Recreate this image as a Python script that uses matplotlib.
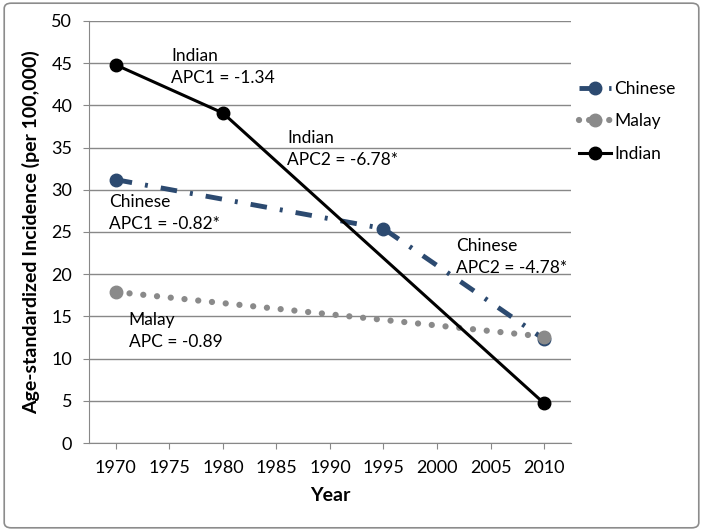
import matplotlib.pyplot as plt
from matplotlib.patches import FancyBboxPatch

plt.rcParams['font.family'] = ['Lato', 'DejaVu Sans']

# data
chinese_years = [1970, 1995, 2010]
chinese_vals = [31.2, 25.4, 12.3]
malay_years = [1970, 2010]
malay_vals = [17.9, 12.6]
indian_years = [1970, 1980, 2010]
indian_vals = [44.8, 39.1, 4.7]

xticks = [1970, 1975, 1980, 1985, 1990, 1995, 2000, 2005, 2010]
yticks = [0, 5, 10, 15, 20, 25, 30, 35, 40, 45, 50]

labels = [
    (1975.2, 46.8, "Indian\nAPC1 = -1.34"),
    (1986.0, 37.1, "Indian\nAPC2 = -6.78*"),
    (1969.4, 29.5, "Chinese\nAPC1 = -0.82*"),
    (2001.8, 24.3, "Chinese\nAPC2 = -4.78*"),
    (1971.2, 15.5, "Malay\nAPC = -0.89"),
]

blue = '#2c4a70'
grey = '#8a8a8a'

fig = plt.figure(figsize=(7.03, 5.31), dpi=100)
ax = fig.add_axes([0.1266, 0.1657, 0.6855, 0.7948])

ax.plot(chinese_years, chinese_vals, color=blue, lw=3.5, dashes=[3.4, 2.7, 0.6, 2.7],
        marker='o', ms=9, label='Chinese', zorder=3)
ax.plot(malay_years, malay_vals, color=grey, lw=0, marker='o', ms=9, zorder=5)
ax.plot(malay_years, malay_vals, color=grey, lw=4.5, linestyle=(0, (0.01, 2.2)),
        dash_capstyle='round', zorder=2)
ax.plot([], [], color=grey, lw=4.5, linestyle=(0, (0.01, 1.6)),
        dash_capstyle='round', marker='o', ms=9, label='Malay')
ax.plot(indian_years, indian_vals, color='black', lw=2.2, marker='o', ms=9,
        label='Indian', zorder=4)

for x, y, s in labels:
    ax.text(x, y, s, fontsize=12.5, va='top', ha='left', linespacing=1.45)

ax.set_xlim(1967.5, 2012.5)
ax.set_ylim(0, 50)
ax.set_xticks(xticks)
ax.set_yticks(yticks)
ax.tick_params(labelsize=13, color='#888888', length=4, pad=8)
ax.yaxis.grid(True, color='#888888', lw=1)
ax.set_axisbelow(True)
for side in ['top', 'right']:
    ax.spines[side].set_visible(False)
for side in ['left', 'bottom']:
    ax.spines[side].set_color('#888888')

ax.set_xlabel('Year', fontsize=14, fontweight='bold', labelpad=8)
ax.set_ylabel('Age-standardized Incidence (per 100,000)', fontsize=14,
              fontweight='bold', labelpad=8)

fig.legend(loc='upper left', bbox_to_anchor=(0.802, 0.877), frameon=False,
           fontsize=12.5, handlelength=1.8, handletextpad=0.2, labelspacing=0.95)

fig.patches.append(FancyBboxPatch((0.006, 0.006), 0.988, 0.988,
                                  boxstyle='round,pad=0,rounding_size=0.01',
                                  transform=fig.transFigure, fill=False,
                                  edgecolor='#8c8c8c', lw=1.2))

fig.savefig('out.png', dpi=100)
